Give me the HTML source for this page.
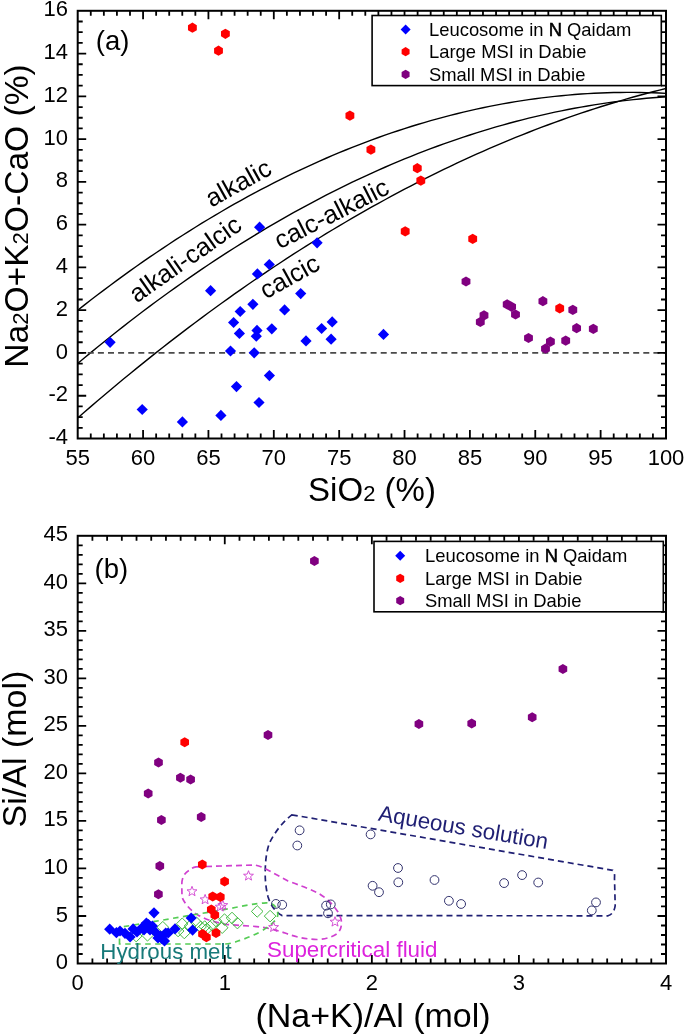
<!DOCTYPE html>
<html><head><meta charset="utf-8"><style>
html,body{margin:0;padding:0;background:#fff;}
body{width:685px;height:1036px;overflow:hidden;}
svg{display:block;font-family:"Liberation Sans", sans-serif;will-change:transform;}
</style></head><body>
<svg width="685" height="1036" viewBox="0 0 685 1036">
<rect width="685" height="1036" fill="#fff"/>
<clipPath id="ca"><rect x="77.7" y="10.8" width="588.3" height="427.7"/></clipPath>
<g clip-path="url(#ca)">
<polyline points="77.70,310.25 84.24,305.12 90.77,300.05 97.31,295.04 103.85,290.09 110.38,285.21 116.92,280.38 123.46,275.62 129.99,270.91 136.53,266.27 143.07,261.69 149.60,257.17 156.14,252.71 162.68,248.31 169.21,243.98 175.75,239.70 182.29,235.49 188.82,231.33 195.36,227.24 201.90,223.21 208.43,219.24 214.97,215.33 221.51,211.48 228.04,207.70 234.58,203.97 241.12,200.31 247.65,196.71 254.19,193.16 260.73,189.68 267.26,186.26 273.80,182.91 280.34,179.61 286.87,176.37 293.41,173.20 299.95,170.09 306.48,167.03 313.02,164.04 319.56,161.11 326.09,158.24 332.63,155.44 339.17,152.69 345.70,150.00 352.24,147.38 358.78,144.82 365.31,142.32 371.85,139.87 378.39,137.50 384.92,135.18 391.46,132.92 398.00,130.72 404.53,128.59 411.07,126.51 417.61,124.50 424.14,122.55 430.68,120.66 437.22,118.83 443.75,117.06 450.29,115.36 456.83,113.71 463.36,112.13 469.90,110.60 476.44,109.14 482.97,107.74 489.51,106.40 496.05,105.12 502.58,103.90 509.12,102.75 515.66,101.65 522.19,100.62 528.73,99.65 535.27,98.74 541.80,97.88 548.34,97.10 554.88,96.37 561.41,95.70 567.95,95.09 574.49,94.55 581.02,94.07 587.56,93.64 594.10,93.28 600.63,92.98 607.17,92.74 613.71,92.57 620.24,92.45 626.78,92.39 633.32,92.40 639.85,92.47 646.39,92.59 652.93,92.78 659.46,93.03 666.00,93.35" fill="none" stroke="#000" stroke-width="1.4"/>
<polyline points="77.70,363.48 84.24,358.01 90.77,352.59 97.31,347.23 103.85,341.93 110.38,336.68 116.92,331.50 123.46,326.36 129.99,321.29 136.53,316.27 143.07,311.30 149.60,306.39 156.14,301.54 162.68,296.75 169.21,292.01 175.75,287.33 182.29,282.70 188.82,278.13 195.36,273.62 201.90,269.16 208.43,264.76 214.97,260.42 221.51,256.13 228.04,251.90 234.58,247.73 241.12,243.61 247.65,239.54 254.19,235.54 260.73,231.59 267.26,227.70 273.80,223.86 280.34,220.08 286.87,216.35 293.41,212.69 299.95,209.07 306.48,205.52 313.02,202.02 319.56,198.58 326.09,195.19 332.63,191.86 339.17,188.59 345.70,185.37 352.24,182.21 358.78,179.11 365.31,176.06 371.85,173.07 378.39,170.13 384.92,167.25 391.46,164.43 398.00,161.67 404.53,158.96 411.07,156.30 417.61,153.70 424.14,151.16 430.68,148.68 437.22,146.25 443.75,143.88 450.29,141.56 456.83,139.31 463.36,137.10 469.90,134.96 476.44,132.87 482.97,130.83 489.51,128.85 496.05,126.93 502.58,125.07 509.12,123.26 515.66,121.51 522.19,119.81 528.73,118.17 535.27,116.59 541.80,115.07 548.34,113.59 554.88,112.18 561.41,110.82 567.95,109.52 574.49,108.28 581.02,107.09 587.56,105.96 594.10,104.88 600.63,103.86 607.17,102.90 613.71,101.99 620.24,101.14 626.78,100.35 633.32,99.61 639.85,98.93 646.39,98.30 652.93,97.74 659.46,97.22 666.00,96.77" fill="none" stroke="#000" stroke-width="1.4"/>
<polyline points="77.70,417.98 84.24,412.28 90.77,406.63 97.31,401.03 103.85,395.48 110.38,389.97 116.92,384.50 123.46,379.08 129.99,373.71 136.53,368.38 143.07,363.10 149.60,357.86 156.14,352.67 162.68,347.52 169.21,342.42 175.75,337.37 182.29,332.36 188.82,327.40 195.36,322.48 201.90,317.61 208.43,312.78 214.97,308.00 221.51,303.27 228.04,298.58 234.58,293.94 241.12,289.34 247.65,284.79 254.19,280.28 260.73,275.82 267.26,271.40 273.80,267.04 280.34,262.71 286.87,258.43 293.41,254.20 299.95,250.01 306.48,245.87 313.02,241.78 319.56,237.73 326.09,233.72 332.63,229.77 339.17,225.85 345.70,221.99 352.24,218.16 358.78,214.39 365.31,210.66 371.85,206.97 378.39,203.34 384.92,199.74 391.46,196.19 398.00,192.69 404.53,189.24 411.07,185.83 417.61,182.46 424.14,179.14 430.68,175.87 437.22,172.64 443.75,169.46 450.29,166.32 456.83,163.23 463.36,160.19 469.90,157.19 476.44,154.23 482.97,151.32 489.51,148.46 496.05,145.64 502.58,142.87 509.12,140.15 515.66,137.47 522.19,134.83 528.73,132.24 535.27,129.70 541.80,127.20 548.34,124.75 554.88,122.35 561.41,119.98 567.95,117.67 574.49,115.40 581.02,113.18 587.56,111.00 594.10,108.87 600.63,106.78 607.17,104.74 613.71,102.75 620.24,100.80 626.78,98.89 633.32,97.03 639.85,95.22 646.39,93.45 652.93,91.73 659.46,90.06 666.00,88.43" fill="none" stroke="#000" stroke-width="1.4"/>
<line x1="77.7" y1="352.96" x2="666.0" y2="352.96" stroke="#4a4a4a" stroke-width="1.8" stroke-dasharray="6 4.1"/>
</g>
<text x="0" y="9.31" text-anchor="middle" transform="translate(237.9,182.4) rotate(-29)" font-size="25.5">alkalic</text>
<text x="0" y="9.31" text-anchor="middle" transform="translate(184.7,258.4) rotate(-35)" font-size="25.5">alkali-calcic</text>
<text x="0" y="9.31" text-anchor="middle" transform="translate(331.1,213) rotate(-27)" font-size="25.5">calc-alkalic</text>
<text x="0" y="9.31" text-anchor="middle" transform="translate(289.2,275.8) rotate(-29)" font-size="25.5">calcic</text>
<path d="M110.1 336.7L115.7 342.3L110.1 347.9L104.5 342.3Z" fill="#0000ff" stroke="none" stroke-width="0"/>
<path d="M142.2 403.9L147.8 409.5L142.2 415.1L136.6 409.5Z" fill="#0000ff" stroke="none" stroke-width="0"/>
<path d="M182.4 416.3L188.0 421.9L182.4 427.5L176.8 421.9Z" fill="#0000ff" stroke="none" stroke-width="0"/>
<path d="M210.6 285.1L216.2 290.7L210.6 296.3L205.0 290.7Z" fill="#0000ff" stroke="none" stroke-width="0"/>
<path d="M220.9 409.8L226.5 415.4L220.9 421.0L215.3 415.4Z" fill="#0000ff" stroke="none" stroke-width="0"/>
<path d="M230.5 345.4L236.1 351.0L230.5 356.6L224.9 351.0Z" fill="#0000ff" stroke="none" stroke-width="0"/>
<path d="M233.6 316.9L239.2 322.5L233.6 328.1L228.0 322.5Z" fill="#0000ff" stroke="none" stroke-width="0"/>
<path d="M236.5 381.0L242.1 386.6L236.5 392.2L230.9 386.6Z" fill="#0000ff" stroke="none" stroke-width="0"/>
<path d="M239.4 327.8L245.0 333.4L239.4 339.0L233.8 333.4Z" fill="#0000ff" stroke="none" stroke-width="0"/>
<path d="M240.2 305.9L245.8 311.5L240.2 317.1L234.6 311.5Z" fill="#0000ff" stroke="none" stroke-width="0"/>
<path d="M252.9 298.7L258.5 304.3L252.9 309.9L247.3 304.3Z" fill="#0000ff" stroke="none" stroke-width="0"/>
<path d="M254.2 347.2L259.8 352.8L254.2 358.4L248.6 352.8Z" fill="#0000ff" stroke="none" stroke-width="0"/>
<path d="M257.0 324.8L262.6 330.4L257.0 336.0L251.4 330.4Z" fill="#0000ff" stroke="none" stroke-width="0"/>
<path d="M256.3 330.6L261.9 336.2L256.3 341.8L250.7 336.2Z" fill="#0000ff" stroke="none" stroke-width="0"/>
<path d="M257.4 268.3L263.0 273.9L257.4 279.5L251.8 273.9Z" fill="#0000ff" stroke="none" stroke-width="0"/>
<path d="M259.0 396.9L264.6 402.5L259.0 408.1L253.4 402.5Z" fill="#0000ff" stroke="none" stroke-width="0"/>
<path d="M259.6 221.6L265.2 227.2L259.6 232.8L254.0 227.2Z" fill="#0000ff" stroke="none" stroke-width="0"/>
<path d="M269.3 258.9L274.9 264.5L269.3 270.1L263.7 264.5Z" fill="#0000ff" stroke="none" stroke-width="0"/>
<path d="M269.4 370.0L275.0 375.6L269.4 381.2L263.8 375.6Z" fill="#0000ff" stroke="none" stroke-width="0"/>
<path d="M271.8 323.2L277.4 328.8L271.8 334.4L266.2 328.8Z" fill="#0000ff" stroke="none" stroke-width="0"/>
<path d="M284.6 304.3L290.2 309.9L284.6 315.5L279.0 309.9Z" fill="#0000ff" stroke="none" stroke-width="0"/>
<path d="M300.7 288.0L306.3 293.6L300.7 299.2L295.1 293.6Z" fill="#0000ff" stroke="none" stroke-width="0"/>
<path d="M306.0 335.3L311.6 340.9L306.0 346.5L300.4 340.9Z" fill="#0000ff" stroke="none" stroke-width="0"/>
<path d="M317.1 237.2L322.7 242.8L317.1 248.4L311.5 242.8Z" fill="#0000ff" stroke="none" stroke-width="0"/>
<path d="M321.6 322.9L327.2 328.5L321.6 334.1L316.0 328.5Z" fill="#0000ff" stroke="none" stroke-width="0"/>
<path d="M332.2 316.3L337.8 321.9L332.2 327.5L326.6 321.9Z" fill="#0000ff" stroke="none" stroke-width="0"/>
<path d="M331.1 333.6L336.7 339.2L331.1 344.8L325.5 339.2Z" fill="#0000ff" stroke="none" stroke-width="0"/>
<path d="M383.5 328.8L389.1 334.4L383.5 340.0L377.9 334.4Z" fill="#0000ff" stroke="none" stroke-width="0"/>
<polygon points="192.40,22.60 187.98,25.15 187.98,30.25 192.40,32.80 196.82,30.25 196.82,25.15" fill="#ff0000"/>
<polygon points="225.40,28.70 220.98,31.25 220.98,36.35 225.40,38.90 229.82,36.35 229.82,31.25" fill="#ff0000"/>
<polygon points="218.50,45.60 214.08,48.15 214.08,53.25 218.50,55.80 222.92,53.25 222.92,48.15" fill="#ff0000"/>
<polygon points="349.90,110.50 345.48,113.05 345.48,118.15 349.90,120.70 354.32,118.15 354.32,113.05" fill="#ff0000"/>
<polygon points="370.90,144.50 366.48,147.05 366.48,152.15 370.90,154.70 375.32,152.15 375.32,147.05" fill="#ff0000"/>
<polygon points="417.30,163.10 412.88,165.65 412.88,170.75 417.30,173.30 421.72,170.75 421.72,165.65" fill="#ff0000"/>
<polygon points="420.80,175.50 416.38,178.05 416.38,183.15 420.80,185.70 425.22,183.15 425.22,178.05" fill="#ff0000"/>
<polygon points="405.20,226.30 400.78,228.85 400.78,233.95 405.20,236.50 409.62,233.95 409.62,228.85" fill="#ff0000"/>
<polygon points="472.70,233.80 468.28,236.35 468.28,241.45 472.70,244.00 477.12,241.45 477.12,236.35" fill="#ff0000"/>
<polygon points="559.70,303.30 555.28,305.85 555.28,310.95 559.70,313.50 564.12,310.95 564.12,305.85" fill="#ff0000"/>
<polygon points="466.00,276.40 461.58,278.95 461.58,284.05 466.00,286.60 470.42,284.05 470.42,278.95" fill="#800080"/>
<polygon points="484.00,310.30 479.58,312.85 479.58,317.95 484.00,320.50 488.42,317.95 488.42,312.85" fill="#800080"/>
<polygon points="480.30,316.90 475.88,319.45 475.88,324.55 480.30,327.10 484.72,324.55 484.72,319.45" fill="#800080"/>
<polygon points="507.20,299.30 502.78,301.85 502.78,306.95 507.20,309.50 511.62,306.95 511.62,301.85" fill="#800080"/>
<polygon points="511.60,301.70 507.18,304.25 507.18,309.35 511.60,311.90 516.02,309.35 516.02,304.25" fill="#800080"/>
<polygon points="515.50,309.40 511.08,311.95 511.08,317.05 515.50,319.60 519.92,317.05 519.92,311.95" fill="#800080"/>
<polygon points="542.90,296.10 538.48,298.65 538.48,303.75 542.90,306.30 547.32,303.75 547.32,298.65" fill="#800080"/>
<polygon points="572.80,304.80 568.38,307.35 568.38,312.45 572.80,315.00 577.22,312.45 577.22,307.35" fill="#800080"/>
<polygon points="576.60,323.10 572.18,325.65 572.18,330.75 576.60,333.30 581.02,330.75 581.02,325.65" fill="#800080"/>
<polygon points="593.30,323.80 588.88,326.35 588.88,331.45 593.30,334.00 597.72,331.45 597.72,326.35" fill="#800080"/>
<polygon points="528.50,332.90 524.08,335.45 524.08,340.55 528.50,343.10 532.92,340.55 532.92,335.45" fill="#800080"/>
<polygon points="565.70,335.50 561.28,338.05 561.28,343.15 565.70,345.70 570.12,343.15 570.12,338.05" fill="#800080"/>
<polygon points="550.40,336.50 545.98,339.05 545.98,344.15 550.40,346.70 554.82,344.15 554.82,339.05" fill="#800080"/>
<polygon points="545.50,343.60 541.08,346.15 541.08,351.25 545.50,353.80 549.92,351.25 549.92,346.15" fill="#800080"/>
<path d="M90.77 438.50v-5.0M90.77 10.80v5.0M103.85 438.50v-5.0M103.85 10.80v5.0M116.92 438.50v-5.0M116.92 10.80v5.0M129.99 438.50v-5.0M129.99 10.80v5.0M156.14 438.50v-5.0M156.14 10.80v5.0M169.21 438.50v-5.0M169.21 10.80v5.0M182.29 438.50v-5.0M182.29 10.80v5.0M195.36 438.50v-5.0M195.36 10.80v5.0M221.51 438.50v-5.0M221.51 10.80v5.0M234.58 438.50v-5.0M234.58 10.80v5.0M247.65 438.50v-5.0M247.65 10.80v5.0M260.73 438.50v-5.0M260.73 10.80v5.0M286.87 438.50v-5.0M286.87 10.80v5.0M299.95 438.50v-5.0M299.95 10.80v5.0M313.02 438.50v-5.0M313.02 10.80v5.0M326.09 438.50v-5.0M326.09 10.80v5.0M352.24 438.50v-5.0M352.24 10.80v5.0M365.31 438.50v-5.0M365.31 10.80v5.0M378.39 438.50v-5.0M378.39 10.80v5.0M391.46 438.50v-5.0M391.46 10.80v5.0M417.61 438.50v-5.0M417.61 10.80v5.0M430.68 438.50v-5.0M430.68 10.80v5.0M443.75 438.50v-5.0M443.75 10.80v5.0M456.83 438.50v-5.0M456.83 10.80v5.0M482.97 438.50v-5.0M482.97 10.80v5.0M496.05 438.50v-5.0M496.05 10.80v5.0M509.12 438.50v-5.0M509.12 10.80v5.0M522.19 438.50v-5.0M522.19 10.80v5.0M548.34 438.50v-5.0M548.34 10.80v5.0M561.41 438.50v-5.0M561.41 10.80v5.0M574.49 438.50v-5.0M574.49 10.80v5.0M587.56 438.50v-5.0M587.56 10.80v5.0M613.71 438.50v-5.0M613.71 10.80v5.0M626.78 438.50v-5.0M626.78 10.80v5.0M639.85 438.50v-5.0M639.85 10.80v5.0M652.93 438.50v-5.0M652.93 10.80v5.0M143.07 438.50v-8.5M143.07 10.80v8.5M208.43 438.50v-8.5M208.43 10.80v8.5M273.80 438.50v-8.5M273.80 10.80v8.5M339.17 438.50v-8.5M339.17 10.80v8.5M404.53 438.50v-8.5M404.53 10.80v8.5M469.90 438.50v-8.5M469.90 10.80v8.5M535.27 438.50v-8.5M535.27 10.80v8.5M600.63 438.50v-8.5M600.63 10.80v8.5M77.70 427.81h5.0M666.00 427.81h-5.0M77.70 417.12h5.0M666.00 417.12h-5.0M77.70 406.42h5.0M666.00 406.42h-5.0M77.70 385.04h5.0M666.00 385.04h-5.0M77.70 374.35h5.0M666.00 374.35h-5.0M77.70 363.65h5.0M666.00 363.65h-5.0M77.70 342.27h5.0M666.00 342.27h-5.0M77.70 331.57h5.0M666.00 331.57h-5.0M77.70 320.88h5.0M666.00 320.88h-5.0M77.70 299.50h5.0M666.00 299.50h-5.0M77.70 288.81h5.0M666.00 288.81h-5.0M77.70 278.11h5.0M666.00 278.11h-5.0M77.70 256.73h5.0M666.00 256.73h-5.0M77.70 246.04h5.0M666.00 246.04h-5.0M77.70 235.34h5.0M666.00 235.34h-5.0M77.70 213.96h5.0M666.00 213.96h-5.0M77.70 203.27h5.0M666.00 203.27h-5.0M77.70 192.57h5.0M666.00 192.57h-5.0M77.70 171.19h5.0M666.00 171.19h-5.0M77.70 160.50h5.0M666.00 160.50h-5.0M77.70 149.80h5.0M666.00 149.80h-5.0M77.70 128.42h5.0M666.00 128.42h-5.0M77.70 117.73h5.0M666.00 117.73h-5.0M77.70 107.03h5.0M666.00 107.03h-5.0M77.70 85.65h5.0M666.00 85.65h-5.0M77.70 74.96h5.0M666.00 74.96h-5.0M77.70 64.26h5.0M666.00 64.26h-5.0M77.70 42.88h5.0M666.00 42.88h-5.0M77.70 32.19h5.0M666.00 32.19h-5.0M77.70 21.49h5.0M666.00 21.49h-5.0M77.70 395.73h8.5M666.00 395.73h-8.5M77.70 352.96h8.5M666.00 352.96h-8.5M77.70 310.19h8.5M666.00 310.19h-8.5M77.70 267.42h8.5M666.00 267.42h-8.5M77.70 224.65h8.5M666.00 224.65h-8.5M77.70 181.88h8.5M666.00 181.88h-8.5M77.70 139.11h8.5M666.00 139.11h-8.5M77.70 96.34h8.5M666.00 96.34h-8.5M77.70 53.57h8.5M666.00 53.57h-8.5" stroke="#000" stroke-width="1.8" fill="none"/><rect x="77.70" y="10.80" width="588.30" height="427.70" fill="none" stroke="#000" stroke-width="2"/>
<rect x="372.1" y="15.5" width="289.19999999999993" height="70.1" fill="#fff" stroke="#000" stroke-width="1.6"/><path d="M405.6 24.5L410.6 29.5L405.6 34.5L400.6 29.5Z" fill="#0000ff" stroke="none" stroke-width="0"/><polygon points="405.60,47.10 401.62,49.40 401.62,54.00 405.60,56.30 409.58,54.00 409.58,49.40" fill="#ff0000"/><polygon points="405.60,69.80 401.62,72.10 401.62,76.70 405.60,79.00 409.58,76.70 409.58,72.10" fill="#800080"/><text x="429.0" y="36.0" font-size="18.4">Leucosome in <tspan stroke="#000" stroke-width="0.55">N</tspan> Qaidam</text><text x="429.0" y="58.2" font-size="18.4">Large MSI in Dabie</text><text x="429.0" y="80.9" font-size="18.4">Small MSI in Dabie</text>
<text x="68" y="444.0" font-size="22" text-anchor="end">-4</text>
<text x="68" y="401.2" font-size="22" text-anchor="end">-2</text>
<text x="68" y="358.5" font-size="22" text-anchor="end">0</text>
<text x="68" y="315.7" font-size="22" text-anchor="end">2</text>
<text x="68" y="272.9" font-size="22" text-anchor="end">4</text>
<text x="68" y="230.2" font-size="22" text-anchor="end">6</text>
<text x="68" y="187.4" font-size="22" text-anchor="end">8</text>
<text x="68" y="144.6" font-size="22" text-anchor="end">10</text>
<text x="68" y="101.8" font-size="22" text-anchor="end">12</text>
<text x="68" y="59.1" font-size="22" text-anchor="end">14</text>
<text x="68" y="16.3" font-size="22" text-anchor="end">16</text>
<text x="77.7" y="465.0" font-size="22" text-anchor="middle">55</text>
<text x="143.1" y="465.0" font-size="22" text-anchor="middle">60</text>
<text x="208.4" y="465.0" font-size="22" text-anchor="middle">65</text>
<text x="273.8" y="465.0" font-size="22" text-anchor="middle">70</text>
<text x="339.2" y="465.0" font-size="22" text-anchor="middle">75</text>
<text x="404.5" y="465.0" font-size="22" text-anchor="middle">80</text>
<text x="469.9" y="465.0" font-size="22" text-anchor="middle">85</text>
<text x="535.3" y="465.0" font-size="22" text-anchor="middle">90</text>
<text x="600.6" y="465.0" font-size="22" text-anchor="middle">95</text>
<text x="666.0" y="465.0" font-size="22" text-anchor="middle">100</text>
<text x="95.8" y="49.9" font-size="27.5">(a)</text>
<text transform="translate(28,216) rotate(-90)" font-size="33.6" text-anchor="middle">Na<tspan font-size="22">2</tspan>O+K<tspan font-size="22">2</tspan>O-CaO (%)</text>
<text x="372" y="501" font-size="33" text-anchor="middle">SiO<tspan font-size="22">2</tspan> (%)</text>
<path d="M92.41 963.50v-5.0M92.41 535.80v5.0M107.12 963.50v-5.0M107.12 535.80v5.0M121.82 963.50v-5.0M121.82 535.80v5.0M136.53 963.50v-5.0M136.53 535.80v5.0M151.24 963.50v-5.0M151.24 535.80v5.0M165.94 963.50v-5.0M165.94 535.80v5.0M180.65 963.50v-5.0M180.65 535.80v5.0M195.36 963.50v-5.0M195.36 535.80v5.0M210.07 963.50v-5.0M210.07 535.80v5.0M239.48 963.50v-5.0M239.48 535.80v5.0M254.19 963.50v-5.0M254.19 535.80v5.0M268.90 963.50v-5.0M268.90 535.80v5.0M283.60 963.50v-5.0M283.60 535.80v5.0M298.31 963.50v-5.0M298.31 535.80v5.0M313.02 963.50v-5.0M313.02 535.80v5.0M327.73 963.50v-5.0M327.73 535.80v5.0M342.44 963.50v-5.0M342.44 535.80v5.0M357.14 963.50v-5.0M357.14 535.80v5.0M386.56 963.50v-5.0M386.56 535.80v5.0M401.26 963.50v-5.0M401.26 535.80v5.0M415.97 963.50v-5.0M415.97 535.80v5.0M430.68 963.50v-5.0M430.68 535.80v5.0M445.39 963.50v-5.0M445.39 535.80v5.0M460.09 963.50v-5.0M460.09 535.80v5.0M474.80 963.50v-5.0M474.80 535.80v5.0M489.51 963.50v-5.0M489.51 535.80v5.0M504.22 963.50v-5.0M504.22 535.80v5.0M533.63 963.50v-5.0M533.63 535.80v5.0M548.34 963.50v-5.0M548.34 535.80v5.0M563.05 963.50v-5.0M563.05 535.80v5.0M577.75 963.50v-5.0M577.75 535.80v5.0M592.46 963.50v-5.0M592.46 535.80v5.0M607.17 963.50v-5.0M607.17 535.80v5.0M621.88 963.50v-5.0M621.88 535.80v5.0M636.58 963.50v-5.0M636.58 535.80v5.0M651.29 963.50v-5.0M651.29 535.80v5.0M224.77 963.50v-8.5M224.77 535.80v8.5M371.85 963.50v-8.5M371.85 535.80v8.5M518.92 963.50v-8.5M518.92 535.80v8.5M77.70 954.00h5.0M666.00 954.00h-5.0M77.70 944.49h5.0M666.00 944.49h-5.0M77.70 934.99h5.0M666.00 934.99h-5.0M77.70 925.48h5.0M666.00 925.48h-5.0M77.70 906.47h5.0M666.00 906.47h-5.0M77.70 896.97h5.0M666.00 896.97h-5.0M77.70 887.46h5.0M666.00 887.46h-5.0M77.70 877.96h5.0M666.00 877.96h-5.0M77.70 858.95h5.0M666.00 858.95h-5.0M77.70 849.45h5.0M666.00 849.45h-5.0M77.70 839.94h5.0M666.00 839.94h-5.0M77.70 830.44h5.0M666.00 830.44h-5.0M77.70 811.43h5.0M666.00 811.43h-5.0M77.70 801.92h5.0M666.00 801.92h-5.0M77.70 792.42h5.0M666.00 792.42h-5.0M77.70 782.92h5.0M666.00 782.92h-5.0M77.70 763.91h5.0M666.00 763.91h-5.0M77.70 754.40h5.0M666.00 754.40h-5.0M77.70 744.90h5.0M666.00 744.90h-5.0M77.70 735.39h5.0M666.00 735.39h-5.0M77.70 716.38h5.0M666.00 716.38h-5.0M77.70 706.88h5.0M666.00 706.88h-5.0M77.70 697.38h5.0M666.00 697.38h-5.0M77.70 687.87h5.0M666.00 687.87h-5.0M77.70 668.86h5.0M666.00 668.86h-5.0M77.70 659.36h5.0M666.00 659.36h-5.0M77.70 649.85h5.0M666.00 649.85h-5.0M77.70 640.35h5.0M666.00 640.35h-5.0M77.70 621.34h5.0M666.00 621.34h-5.0M77.70 611.84h5.0M666.00 611.84h-5.0M77.70 602.33h5.0M666.00 602.33h-5.0M77.70 592.83h5.0M666.00 592.83h-5.0M77.70 573.82h5.0M666.00 573.82h-5.0M77.70 564.31h5.0M666.00 564.31h-5.0M77.70 554.81h5.0M666.00 554.81h-5.0M77.70 545.30h5.0M666.00 545.30h-5.0M77.70 915.98h8.5M666.00 915.98h-8.5M77.70 868.46h8.5M666.00 868.46h-8.5M77.70 820.93h8.5M666.00 820.93h-8.5M77.70 773.41h8.5M666.00 773.41h-8.5M77.70 725.89h8.5M666.00 725.89h-8.5M77.70 678.37h8.5M666.00 678.37h-8.5M77.70 630.84h8.5M666.00 630.84h-8.5M77.70 583.32h8.5M666.00 583.32h-8.5" stroke="#000" stroke-width="1.8" fill="none"/><rect x="77.70" y="535.80" width="588.30" height="427.70" fill="none" stroke="#000" stroke-width="2"/>
<text x="68" y="969.0" font-size="22" text-anchor="end">0</text>
<text x="68" y="921.5" font-size="22" text-anchor="end">5</text>
<text x="68" y="874.0" font-size="22" text-anchor="end">10</text>
<text x="68" y="826.4" font-size="22" text-anchor="end">15</text>
<text x="68" y="778.9" font-size="22" text-anchor="end">20</text>
<text x="68" y="731.4" font-size="22" text-anchor="end">25</text>
<text x="68" y="683.9" font-size="22" text-anchor="end">30</text>
<text x="68" y="636.3" font-size="22" text-anchor="end">35</text>
<text x="68" y="588.8" font-size="22" text-anchor="end">40</text>
<text x="68" y="541.3" font-size="22" text-anchor="end">45</text>
<text x="77.7" y="990.0" font-size="22" text-anchor="middle">0</text>
<text x="224.8" y="990.0" font-size="22" text-anchor="middle">1</text>
<text x="371.8" y="990.0" font-size="22" text-anchor="middle">2</text>
<text x="518.9" y="990.0" font-size="22" text-anchor="middle">3</text>
<text x="666.0" y="990.0" font-size="22" text-anchor="middle">4</text>
<text x="94.6" y="578.4" font-size="27.5">(b)</text>
<text transform="translate(26,749) rotate(-90)" font-size="34" text-anchor="middle">Si/Al (mol)</text>
<text x="373" y="1027" font-size="34" text-anchor="middle">(Na+K)/Al (mol)</text>
<rect x="374" y="541.4" width="289.29999999999995" height="70.39999999999998" fill="#fff" stroke="#000" stroke-width="1.6"/><path d="M400.2 550.7L405.2 555.7L400.2 560.7L395.2 555.7Z" fill="#0000ff" stroke="none" stroke-width="0"/><polygon points="400.20,573.80 396.22,576.10 396.22,580.70 400.20,583.00 404.18,580.70 404.18,576.10" fill="#ff0000"/><polygon points="400.20,596.00 396.22,598.30 396.22,602.90 400.20,605.20 404.18,602.90 404.18,598.30" fill="#800080"/><text x="425" y="562.2" font-size="18.4">Leucosome in <tspan stroke="#000" stroke-width="0.55">N</tspan> Qaidam</text><text x="425" y="584.9" font-size="18.4">Large MSI in Dabie</text><text x="425" y="607.1" font-size="18.4">Small MSI in Dabie</text>
<clipPath id="cb"><rect x="77.7" y="535.8" width="588.3" height="427.7"/></clipPath>
<g clip-path="url(#cb)">
<path d="M291.8 814.8 L612.7 870.3 Q615 872 614.5 878 L615.2 905.6 Q614 914 608 915.8 L282 915.6 Q272 910 268.1 897 Q265 885 265.2 871.8 Q265.5 852 270 842 Q278 826 291.8 814.8 Z" fill="none" stroke="#1f1f73" stroke-width="1.7" stroke-dasharray="6 4"/>
<path d="M196 866.8 L254 865 Q259 865.5 264 868 L288 881 Q305 887 318 893 Q330 900 338 912 Q345 924 338 933 Q330 939 317 939.5 Q300 939 285 933 Q268 927 249 926 L228 924.6 Q210 922 197 914.5 Q186 907 182 897 L181.8 884 Q182 874 189.7 870 Q192 867.5 196 866.8 Z" fill="none" stroke="#d040d0" stroke-width="1.7" stroke-dasharray="6 4"/>
<path d="M119.5 944 L119.5 929 Q120 927.5 122 927 L231 908.4 Q253 903.5 266 902.8 Q274 903 276 908 Q279 913 277 918 Q272 925 260 932 Q248 938 238 941 Q232 943.5 225 944 Z" fill="none" stroke="#55cc55" stroke-width="1.7" stroke-dasharray="5.5 4.5"/>
<circle cx="299.6" cy="830.3" r="4.4" fill="none" stroke="#33336e" stroke-width="1.0"/>
<circle cx="297.3" cy="845.5" r="4.4" fill="none" stroke="#33336e" stroke-width="1.0"/>
<circle cx="370.6" cy="834.4" r="4.4" fill="none" stroke="#33336e" stroke-width="1.0"/>
<circle cx="398.0" cy="868.0" r="4.4" fill="none" stroke="#33336e" stroke-width="1.0"/>
<circle cx="398.3" cy="882.3" r="4.4" fill="none" stroke="#33336e" stroke-width="1.0"/>
<circle cx="372.6" cy="885.8" r="4.4" fill="none" stroke="#33336e" stroke-width="1.0"/>
<circle cx="379.0" cy="892.2" r="4.4" fill="none" stroke="#33336e" stroke-width="1.0"/>
<circle cx="434.5" cy="880.0" r="4.4" fill="none" stroke="#33336e" stroke-width="1.0"/>
<circle cx="448.9" cy="900.8" r="4.4" fill="none" stroke="#33336e" stroke-width="1.0"/>
<circle cx="461.1" cy="904.0" r="4.4" fill="none" stroke="#33336e" stroke-width="1.0"/>
<circle cx="504.1" cy="883.1" r="4.4" fill="none" stroke="#33336e" stroke-width="1.0"/>
<circle cx="522.1" cy="875.1" r="4.4" fill="none" stroke="#33336e" stroke-width="1.0"/>
<circle cx="538.2" cy="882.5" r="4.4" fill="none" stroke="#33336e" stroke-width="1.0"/>
<circle cx="596.0" cy="902.4" r="4.4" fill="none" stroke="#33336e" stroke-width="1.0"/>
<circle cx="591.8" cy="910.4" r="4.4" fill="none" stroke="#33336e" stroke-width="1.0"/>
<circle cx="275.9" cy="903.9" r="4.4" fill="none" stroke="#33336e" stroke-width="1.0"/>
<circle cx="282.2" cy="904.8" r="4.4" fill="none" stroke="#33336e" stroke-width="1.0"/>
<circle cx="326.1" cy="905.6" r="4.4" fill="none" stroke="#33336e" stroke-width="1.0"/>
<circle cx="330.8" cy="904.4" r="4.4" fill="none" stroke="#33336e" stroke-width="1.0"/>
<circle cx="328.0" cy="913.3" r="4.4" fill="none" stroke="#33336e" stroke-width="1.0"/>
<path d="M136.2 930.3L142.0 936.1L136.2 941.9L130.4 936.1Z" fill="none" stroke="#44bb44" stroke-width="1.0"/>
<path d="M147.5 929.5L153.3 935.3L147.5 941.1L141.7 935.3Z" fill="none" stroke="#44bb44" stroke-width="1.0"/>
<path d="M162.8 921.4L168.6 927.2L162.8 933.0L157.0 927.2Z" fill="none" stroke="#44bb44" stroke-width="1.0"/>
<path d="M178.1 925.2L183.9 931.0L178.1 936.8L172.3 931.0Z" fill="none" stroke="#44bb44" stroke-width="1.0"/>
<path d="M182.2 918.0L188.0 923.8L182.2 929.6L176.4 923.8Z" fill="none" stroke="#44bb44" stroke-width="1.0"/>
<path d="M184.3 927.2L190.1 933.0L184.3 938.8L178.5 933.0Z" fill="none" stroke="#44bb44" stroke-width="1.0"/>
<path d="M196.5 917.0L202.3 922.8L196.5 928.6L190.7 922.8Z" fill="none" stroke="#44bb44" stroke-width="1.0"/>
<path d="M200.6 921.1L206.4 926.9L200.6 932.7L194.8 926.9Z" fill="none" stroke="#44bb44" stroke-width="1.0"/>
<path d="M206.8 923.2L212.6 929.0L206.8 934.8L201.0 929.0Z" fill="none" stroke="#44bb44" stroke-width="1.0"/>
<path d="M211.9 919.1L217.7 924.9L211.9 930.7L206.1 924.9Z" fill="none" stroke="#44bb44" stroke-width="1.0"/>
<path d="M204.7 920.8L210.5 926.6L204.7 932.4L198.9 926.6Z" fill="none" stroke="#44bb44" stroke-width="1.0"/>
<path d="M222.2 921.9L228.0 927.7L222.2 933.5L216.4 927.7Z" fill="none" stroke="#44bb44" stroke-width="1.0"/>
<path d="M224.5 913.8L230.3 919.6L224.5 925.4L218.7 919.6Z" fill="none" stroke="#44bb44" stroke-width="1.0"/>
<path d="M237.4 917.3L243.2 923.1L237.4 928.9L231.6 923.1Z" fill="none" stroke="#44bb44" stroke-width="1.0"/>
<path d="M257.2 905.6L263.0 911.4L257.2 917.2L251.4 911.4Z" fill="none" stroke="#44bb44" stroke-width="1.0"/>
<path d="M270.1 910.3L275.9 916.1L270.1 921.9L264.3 916.1Z" fill="none" stroke="#44bb44" stroke-width="1.0"/>
<path d="M190.0 920.2L195.8 926.0L190.0 931.8L184.2 926.0Z" fill="none" stroke="#44bb44" stroke-width="1.0"/>
<path d="M216.0 915.2L221.8 921.0L216.0 926.8L210.2 921.0Z" fill="none" stroke="#44bb44" stroke-width="1.0"/>
<path d="M232.0 912.2L237.8 918.0L232.0 923.8L226.2 918.0Z" fill="none" stroke="#44bb44" stroke-width="1.0"/>
<path d="M154.0 907.2L159.6 912.8L154.0 918.4L148.4 912.8Z" fill="#0000ff" stroke="none" stroke-width="0"/>
<path d="M191.2 912.4L196.8 918.0L191.2 923.6L185.6 918.0Z" fill="#0000ff" stroke="none" stroke-width="0"/>
<path d="M109.7 923.6L115.3 929.2L109.7 934.8L104.1 929.2Z" fill="#0000ff" stroke="none" stroke-width="0"/>
<path d="M116.4 927.1L122.0 932.7L116.4 938.3L110.8 932.7Z" fill="#0000ff" stroke="none" stroke-width="0"/>
<path d="M125.0 927.7L130.6 933.3L125.0 938.9L119.4 933.3Z" fill="#0000ff" stroke="none" stroke-width="0"/>
<path d="M130.1 931.4L135.7 937.0L130.1 942.6L124.5 937.0Z" fill="#0000ff" stroke="none" stroke-width="0"/>
<path d="M133.1 923.3L138.7 928.9L133.1 934.5L127.5 928.9Z" fill="#0000ff" stroke="none" stroke-width="0"/>
<path d="M141.9 922.2L147.5 927.8L141.9 933.4L136.3 927.8Z" fill="#0000ff" stroke="none" stroke-width="0"/>
<path d="M146.4 917.4L152.0 923.0L146.4 928.6L140.8 923.0Z" fill="#0000ff" stroke="none" stroke-width="0"/>
<path d="M148.5 918.9L154.1 924.5L148.5 930.1L142.9 924.5Z" fill="#0000ff" stroke="none" stroke-width="0"/>
<path d="M152.4 920.4L158.0 926.0L152.4 931.6L146.8 926.0Z" fill="#0000ff" stroke="none" stroke-width="0"/>
<path d="M155.7 926.8L161.3 932.4L155.7 938.0L150.1 932.4Z" fill="#0000ff" stroke="none" stroke-width="0"/>
<path d="M160.6 930.4L166.2 936.0L160.6 941.6L155.0 936.0Z" fill="#0000ff" stroke="none" stroke-width="0"/>
<path d="M164.5 935.4L170.1 941.0L164.5 946.6L158.9 941.0Z" fill="#0000ff" stroke="none" stroke-width="0"/>
<path d="M168.2 927.4L173.8 933.0L168.2 938.6L162.6 933.0Z" fill="#0000ff" stroke="none" stroke-width="0"/>
<path d="M175.0 923.3L180.6 928.9L175.0 934.5L169.4 928.9Z" fill="#0000ff" stroke="none" stroke-width="0"/>
<path d="M192.6 924.5L198.2 930.1L192.6 935.7L187.0 930.1Z" fill="#0000ff" stroke="none" stroke-width="0"/>
<path d="M137.0 926.4L142.6 932.0L137.0 937.6L131.4 932.0Z" fill="#0000ff" stroke="none" stroke-width="0"/>
<path d="M150.0 924.4L155.6 930.0L150.0 935.6L144.4 930.0Z" fill="#0000ff" stroke="none" stroke-width="0"/>
<path d="M158.0 932.4L163.6 938.0L158.0 943.6L152.4 938.0Z" fill="#0000ff" stroke="none" stroke-width="0"/>
<path d="M144.0 924.4L149.6 930.0L144.0 935.6L138.4 930.0Z" fill="#0000ff" stroke="none" stroke-width="0"/>
<path d="M165.7 927.4L171.3 933.0L165.7 938.6L160.1 933.0Z" fill="#0000ff" stroke="none" stroke-width="0"/>
<path d="M161.9 933.0L167.5 938.6L161.9 944.2L156.3 938.6Z" fill="#0000ff" stroke="none" stroke-width="0"/>
<path d="M120.0 925.4L125.6 931.0L120.0 936.6L114.4 931.0Z" fill="#0000ff" stroke="none" stroke-width="0"/>
<polygon points="192.00,886.30 190.71,889.72 187.05,889.89 189.91,892.18 188.94,895.71 192.00,893.70 195.06,895.71 194.09,892.18 196.95,889.89 193.29,889.72" fill="none" stroke="#d040d0" stroke-width="0.9"/>
<polygon points="205.10,894.40 203.81,897.82 200.15,897.99 203.01,900.28 202.04,903.81 205.10,901.80 208.16,903.81 207.19,900.28 210.05,897.99 206.39,897.82" fill="none" stroke="#d040d0" stroke-width="0.9"/>
<polygon points="220.20,901.70 218.91,905.12 215.25,905.29 218.11,907.58 217.14,911.11 220.20,909.10 223.26,911.11 222.29,907.58 225.15,905.29 221.49,905.12" fill="none" stroke="#d040d0" stroke-width="0.9"/>
<polygon points="222.80,900.10 221.51,903.52 217.85,903.69 220.71,905.98 219.74,909.51 222.80,907.50 225.86,909.51 224.89,905.98 227.75,903.69 224.09,903.52" fill="none" stroke="#d040d0" stroke-width="0.9"/>
<polygon points="248.50,870.70 247.21,874.12 243.55,874.29 246.41,876.58 245.44,880.11 248.50,878.10 251.56,880.11 250.59,876.58 253.45,874.29 249.79,874.12" fill="none" stroke="#d040d0" stroke-width="0.9"/>
<polygon points="273.60,922.10 272.31,925.52 268.65,925.69 271.51,927.98 270.54,931.51 273.60,929.50 276.66,931.51 275.69,927.98 278.55,925.69 274.89,925.52" fill="none" stroke="#d040d0" stroke-width="0.9"/>
<polygon points="335.00,916.70 333.71,920.12 330.05,920.29 332.91,922.58 331.94,926.11 335.00,924.10 338.06,926.11 337.09,922.58 339.95,920.29 336.29,920.12" fill="none" stroke="#d040d0" stroke-width="0.9"/>
<polygon points="184.70,737.30 180.37,739.80 180.37,744.80 184.70,747.30 189.03,744.80 189.03,739.80" fill="#ff0000"/>
<polygon points="202.30,859.50 197.97,862.00 197.97,867.00 202.30,869.50 206.63,867.00 206.63,862.00" fill="#ff0000"/>
<polygon points="224.60,876.50 220.27,879.00 220.27,884.00 224.60,886.50 228.93,884.00 228.93,879.00" fill="#ff0000"/>
<polygon points="212.70,891.40 208.37,893.90 208.37,898.90 212.70,901.40 217.03,898.90 217.03,893.90" fill="#ff0000"/>
<polygon points="220.30,891.90 215.97,894.40 215.97,899.40 220.30,901.90 224.63,899.40 224.63,894.40" fill="#ff0000"/>
<polygon points="211.30,904.50 206.97,907.00 206.97,912.00 211.30,914.50 215.63,912.00 215.63,907.00" fill="#ff0000"/>
<polygon points="214.80,910.10 210.47,912.60 210.47,917.60 214.80,920.10 219.13,917.60 219.13,912.60" fill="#ff0000"/>
<polygon points="202.50,929.00 198.17,931.50 198.17,936.50 202.50,939.00 206.83,936.50 206.83,931.50" fill="#ff0000"/>
<polygon points="206.40,932.30 202.07,934.80 202.07,939.80 206.40,942.30 210.73,939.80 210.73,934.80" fill="#ff0000"/>
<polygon points="216.00,928.10 211.67,930.60 211.67,935.60 216.00,938.10 220.33,935.60 220.33,930.60" fill="#ff0000"/>
<polygon points="314.40,556.00 310.07,558.50 310.07,563.50 314.40,566.00 318.73,563.50 318.73,558.50" fill="#800080"/>
<polygon points="562.90,663.90 558.57,666.40 558.57,671.40 562.90,673.90 567.23,671.40 567.23,666.40" fill="#800080"/>
<polygon points="268.00,730.00 263.67,732.50 263.67,737.50 268.00,740.00 272.33,737.50 272.33,732.50" fill="#800080"/>
<polygon points="418.90,719.10 414.57,721.60 414.57,726.60 418.90,729.10 423.23,726.60 423.23,721.60" fill="#800080"/>
<polygon points="471.70,718.60 467.37,721.10 467.37,726.10 471.70,728.60 476.03,726.10 476.03,721.10" fill="#800080"/>
<polygon points="532.20,712.30 527.87,714.80 527.87,719.80 532.20,722.30 536.53,719.80 536.53,714.80" fill="#800080"/>
<polygon points="158.50,757.60 154.17,760.10 154.17,765.10 158.50,767.60 162.83,765.10 162.83,760.10" fill="#800080"/>
<polygon points="180.40,772.70 176.07,775.20 176.07,780.20 180.40,782.70 184.73,780.20 184.73,775.20" fill="#800080"/>
<polygon points="190.60,774.40 186.27,776.90 186.27,781.90 190.60,784.40 194.93,781.90 194.93,776.90" fill="#800080"/>
<polygon points="148.20,788.40 143.87,790.90 143.87,795.90 148.20,798.40 152.53,795.90 152.53,790.90" fill="#800080"/>
<polygon points="161.40,815.00 157.07,817.50 157.07,822.50 161.40,825.00 165.73,822.50 165.73,817.50" fill="#800080"/>
<polygon points="201.20,812.10 196.87,814.60 196.87,819.60 201.20,822.10 205.53,819.60 205.53,814.60" fill="#800080"/>
<polygon points="159.80,861.10 155.47,863.60 155.47,868.60 159.80,871.10 164.13,868.60 164.13,863.60" fill="#800080"/>
<polygon points="158.40,889.30 154.07,891.80 154.07,896.80 158.40,899.30 162.73,896.80 162.73,891.80" fill="#800080"/>
</g>
<text transform="translate(377.5,820.5) rotate(9.6)" font-size="22.4" fill="#1f1f73">Aqueous solution</text>
<text x="267" y="956.5" font-size="22.4" fill="#dd22dd">Supercritical fluid</text>
<text x="100.3" y="959.3" font-size="22.3" fill="#187a7a">Hydrous melt</text>
</svg></body></html>
